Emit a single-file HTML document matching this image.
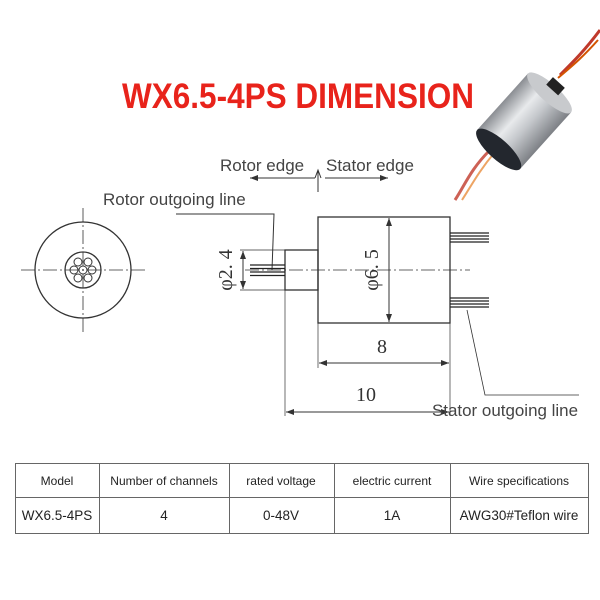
<!DOCTYPE html>
<html><head><meta charset="utf-8"><style>
html,body{margin:0;padding:0;background:#fff;width:600px;height:600px;overflow:hidden}
svg{display:block}
</style></head><body>
<svg width="600" height="600" viewBox="0 0 600 600" xmlns="http://www.w3.org/2000/svg" font-family="Liberation Sans, sans-serif">
<defs>
<linearGradient id="cyl" x1="0" y1="0" x2="1" y2="0">
<stop offset="0" stop-color="#8a8d92"/><stop offset="0.35" stop-color="#e8eaec"/><stop offset="0.6" stop-color="#c4c7cb"/><stop offset="1" stop-color="#7d8085"/>
</linearGradient>
<marker id="ar" markerWidth="8" markerHeight="6" refX="8" refY="3" orient="auto" markerUnits="userSpaceOnUse"><path d="M0,0 L8,3 L0,6 z" fill="#333"/></marker>
</defs>
<g>
<path d="M600,30 C585,50 575,60 560,75" stroke="#c0392b" stroke-width="3" fill="none"/>
<path d="M598,40 C582,58 572,66 558,78" stroke="#d35400" stroke-width="2" fill="none"/>
<path d="M490,150 C470,170 465,185 455,200" stroke="#c0392b" stroke-width="3" fill="none" opacity="0.8"/>
<path d="M495,152 C478,172 470,188 462,200" stroke="#e67e22" stroke-width="2" fill="none" opacity="0.7"/>
<g transform="rotate(42 522 122)">
<rect x="494" y="82" width="58" height="76" fill="url(#cyl)"/>
<ellipse cx="523" cy="82" rx="29" ry="9" fill="#c8cacd"/>
<ellipse cx="523" cy="158" rx="29" ry="10" fill="#23272e"/>
<rect x="515" y="68" width="16" height="10" fill="#222"/>
</g>
</g>
<text x="298" y="108" text-anchor="middle" font-size="35" font-weight="bold" fill="#e8231b" textLength="352" lengthAdjust="spacingAndGlyphs">WX6.5-4PS DIMENSION</text>
<g stroke="#333" fill="none" stroke-width="1">
<line x1="315" y1="178" x2="250" y2="178" marker-end="url(#ar)"/>
<line x1="325" y1="178" x2="388" y2="178" marker-end="url(#ar)"/>
<polyline points="315,178 318,170 321,178"/>
<line x1="318" y1="170" x2="318" y2="192"/>
<polyline points="176,214 274,214 272,270"/>
<circle cx="83" cy="270" r="48" stroke-width="1.3"/>
<circle cx="83" cy="270" r="18" stroke-width="1.3"/>
<circle cx="78" cy="262" r="4"/><circle cx="88" cy="262" r="4"/>
<circle cx="74" cy="270" r="4"/><circle cx="83" cy="270" r="4"/><circle cx="92" cy="270" r="4"/>
<circle cx="78" cy="278" r="4"/><circle cx="88" cy="278" r="4"/>
<line x1="21" y1="270" x2="146" y2="270" stroke-dasharray="14,3,2,3" stroke-width="0.8"/>
<line x1="83" y1="208" x2="83" y2="332" stroke-dasharray="14,3,2,3" stroke-width="0.8"/>
<rect x="318" y="217" width="132" height="106" stroke-width="1.3"/>
<rect x="285" y="250" width="33" height="40" stroke-width="1.3"/>
<line x1="245" y1="270" x2="470" y2="270" stroke-dasharray="14,3,2,3" stroke-width="0.7"/>
<g stroke="#222" stroke-width="1.2">
<line x1="250" y1="265" x2="285" y2="265"/><line x1="250" y1="268.5" x2="285" y2="268.5"/><line x1="250" y1="272" x2="285" y2="272"/><line x1="250" y1="275.5" x2="285" y2="275.5"/>
<line x1="450" y1="233" x2="489" y2="233"/><line x1="450" y1="236" x2="489" y2="236"/><line x1="450" y1="239" x2="489" y2="239"/><line x1="450" y1="242" x2="489" y2="242"/>
<line x1="450" y1="298" x2="489" y2="298"/><line x1="450" y1="301" x2="489" y2="301"/><line x1="450" y1="304" x2="489" y2="304"/><line x1="450" y1="307" x2="489" y2="307"/>
</g>
<line x1="240" y1="250" x2="285" y2="250" stroke-width="0.7"/><line x1="240" y1="290" x2="285" y2="290" stroke-width="0.7"/>
<line x1="243" y1="270" x2="243" y2="251" marker-end="url(#ar)"/><line x1="243" y1="270" x2="243" y2="289" marker-end="url(#ar)"/>
<line x1="389" y1="270" x2="389" y2="218" marker-end="url(#ar)"/><line x1="389" y1="270" x2="389" y2="322" marker-end="url(#ar)"/>
<line x1="318" y1="323" x2="318" y2="368" stroke-width="0.7"/><line x1="450" y1="323" x2="450" y2="416" stroke-width="0.7"/>
<line x1="285" y1="290" x2="285" y2="416" stroke-width="0.7"/>
<line x1="384" y1="363" x2="319" y2="363" marker-end="url(#ar)"/><line x1="384" y1="363" x2="449" y2="363" marker-end="url(#ar)"/>
<line x1="368" y1="412" x2="286" y2="412" marker-end="url(#ar)"/><line x1="368" y1="412" x2="449" y2="412" marker-end="url(#ar)"/>
<polyline points="467,310 485,395 579,395" stroke-width="0.8"/>
</g>
<g fill="#444" font-size="17">
<text x="220" y="171">Rotor edge</text>
<text x="326" y="171">Stator edge</text>
<text x="103" y="205">Rotor outgoing line</text>
<text x="432" y="416" textLength="146" lengthAdjust="spacingAndGlyphs">Stator outgoing line</text>
</g>
<g fill="#333" font-family="Liberation Serif, serif" font-size="20">
<text x="382" y="353" text-anchor="middle">8</text>
<text x="366" y="401" text-anchor="middle">10</text>
<text transform="translate(232 270) rotate(-90)" text-anchor="middle">φ2. 4</text>
<text transform="translate(378 270) rotate(-90)" text-anchor="middle">φ6. 5</text>
</g>
<g stroke="#666" stroke-width="1" fill="none">
<rect x="15.5" y="463.5" width="573" height="70"/>
<line x1="15" y1="497.5" x2="588" y2="497.5"/>
<line x1="99.5" y1="463" x2="99.5" y2="533"/>
<line x1="229.5" y1="463" x2="229.5" y2="533"/>
<line x1="334.5" y1="463" x2="334.5" y2="533"/>
<line x1="450.5" y1="463" x2="450.5" y2="533"/>
</g>
<g fill="#222" font-size="12" text-anchor="middle">
<text x="57" y="485">Model</text>
<text x="164" y="485">Number of channels</text>
<text x="281" y="485">rated voltage</text>
<text x="392" y="485">electric current</text>
<text x="519" y="485">Wire specifications</text>
<g font-size="13.5">
<text x="57" y="520">WX6.5-4PS</text>
<text x="164" y="520">4</text>
<text x="281" y="520">0-48V</text>
<text x="392" y="520">1A</text>
<text x="519" y="520">AWG30#Teflon wire</text>
</g>
</g>
</svg>
</body></html>
